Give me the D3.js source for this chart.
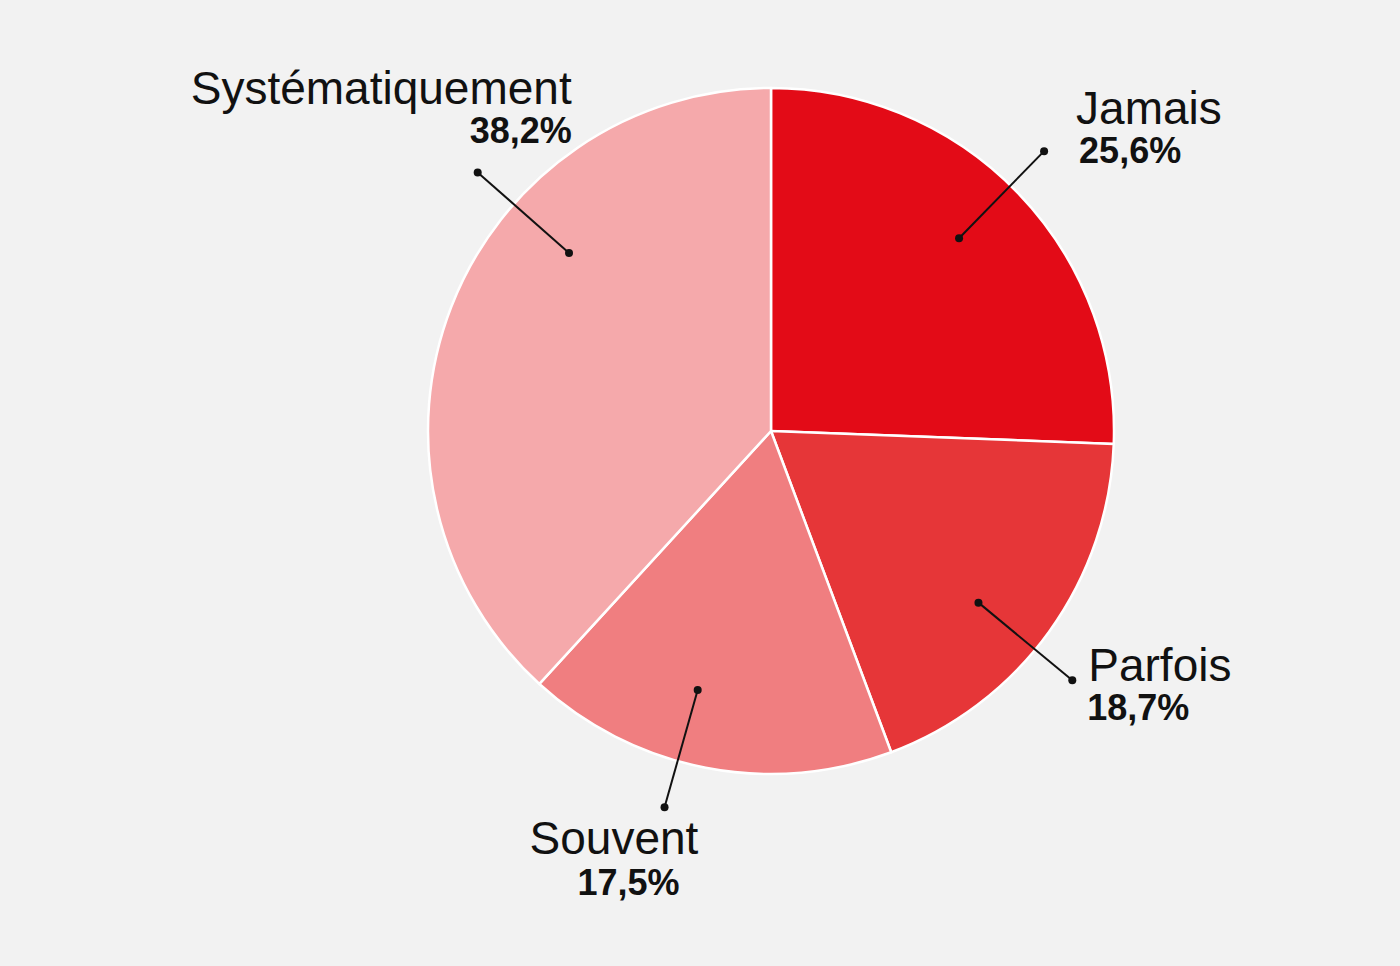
<!DOCTYPE html>
<html>
<head>
<meta charset="utf-8">
<script src="https://cdn.jsdelivr.net/npm/d3@7"></script>
<style>
  html, body { margin: 0; padding: 0; background: #f2f2f2; }
  svg { display: block; }
  .lbl { font-family: "Liberation Sans", Arial, sans-serif; fill: #111; }
</style>
</head>
<body>
<svg id="chart" width="1400" height="966"></svg>
<script>
// data
var categories = ["Jamais", "Parfois", "Souvent", "Systématiquement"];
var values = [25.6, 18.7, 17.5, 38.2];
var valueLabels = ["25,6%", "18,7%", "17,5%", "38,2%"];
var colors = ["#e30b17", "#e63638", "#f07e80", "#f5a9ab"];

// where the leader lines sit (degrees from 12 o'clock) and how labels hang off them
var leaderAngle = [44.3, 129.6, 195.8, 311.4];
var labelPlace = [
  { anchor: "start", dx: 32, dy: -27, dx2: 35, dy2: 12 },
  { anchor: "start", dx: 16, dy: 1,   dx2: 15, dy2: 40 },
  { anchor: "start", dx: -135, dy: 47, dx2: -87, dy2: 88 },
  { anchor: "end",   dx: 94, dy: -68, dx2: 94, dy2: -29 }
];

var width = 1400, height = 966;
var cx = 771, cy = 431, R = 343;

var svg = d3.select("#chart");

var pie = d3.pie().sort(null).value(function(d) { return d; });
var arc = d3.arc().innerRadius(0).outerRadius(R);

var arcs = pie(values);

var g = svg.append("g").attr("transform", "translate(" + cx + "," + cy + ")");

g.selectAll("path.slice")
  .data(arcs)
  .enter()
  .append("path")
  .attr("class", "slice")
  .attr("d", arc)
  .attr("fill", function(d, i) { return colors[i]; })
  .attr("stroke", "#ffffff")
  .attr("stroke-width", 2.5)
  .attr("stroke-linejoin", "round");

function polar(angleDeg, r) {
  var a = angleDeg * Math.PI / 180;
  return [Math.sin(a) * r, -Math.cos(a) * r];
}

var rIn = R * 0.785, rOut = R * 1.14;

arcs.forEach(function(d, i) {
  var p1 = polar(leaderAngle[i], rIn);
  var p2 = polar(leaderAngle[i], rOut);

  g.append("line")
    .attr("x1", p1[0]).attr("y1", p1[1])
    .attr("x2", p2[0]).attr("y2", p2[1])
    .attr("stroke", "#111")
    .attr("stroke-width", 2);

  [p1, p2].forEach(function(p) {
    g.append("circle")
      .attr("cx", p[0]).attr("cy", p[1])
      .attr("r", 4)
      .attr("fill", "#111");
  });

  var lp = labelPlace[i];
  g.append("text")
    .attr("class", "lbl")
    .attr("x", p2[0] + lp.dx)
    .attr("y", p2[1] + lp.dy)
    .attr("text-anchor", lp.anchor)
    .style("font-size", "46px")
    .text(categories[i]);

  g.append("text")
    .attr("class", "lbl")
    .attr("x", p2[0] + lp.dx2)
    .attr("y", p2[1] + lp.dy2)
    .attr("text-anchor", lp.anchor)
    .style("font-size", "36px")
    .style("font-weight", "bold")
    .text(valueLabels[i]);
});
</script>
</body>
</html>
